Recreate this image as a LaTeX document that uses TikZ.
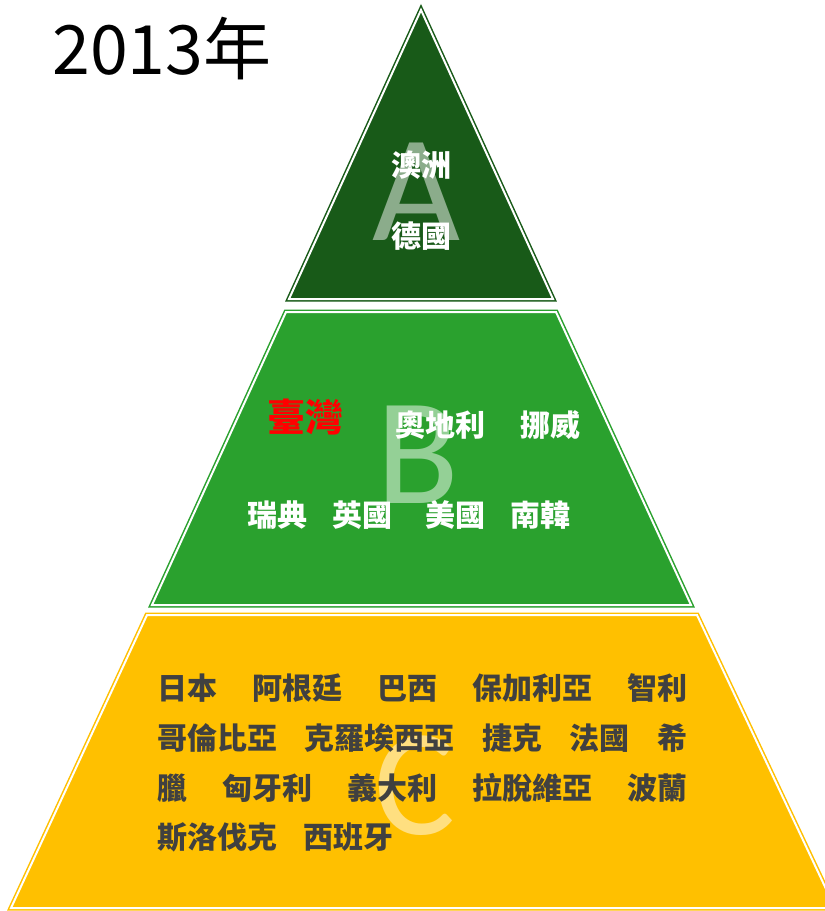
\documentclass[tikz,border=0pt]{standalone}
\usepackage{fontspec}
\usepackage{tikz}
\usetikzlibrary{positioning}
\newfontfamily\cjk{Noto Sans CJK TC}
\newfontfamily\latinfont{Carlito}
\definecolor{topgreen}{RGB}{24,90,24}
\definecolor{midgreen}{RGB}{42,161,46}
\definecolor{basegold}{RGB}{255,192,0}
\definecolor{basegray}{RGB}{64,64,64}

\begin{document}
\begin{tikzpicture}[x=0.5pt, y=-0.5pt,
	tier/.style={line width=0.75pt, double=white, double distance=1pt, line join=miter},
	country/.style={inner sep=0pt, text=white, font=\cjk\bfseries\fontsize{15}{18}\selectfont},
	bigletter/.style={inner sep=0pt, text=white!50!#1, font=\latinfont\fontsize{76}{80}\selectfont}]
		
		% white page of the reference size
		\path[fill=white, use as bounding box] (0,0) rectangle (825,911);
		
		% the three tiers of the pyramid
		\draw[tier, draw=topgreen, fill=topgreen] (421,10) -- (553,299) -- (289,299) -- cycle;
		\draw[tier, draw=midgreen, fill=midgreen] (286,312) -- (556,312) -- (691,605) -- (152,605) -- cycle;
		\draw[tier, draw=basegold, fill=basegold] (147,615) -- (697,615) -- (835,908) -- (11,908) -- cycle;
		
		% big letters behind the names
		\node[bigletter=topgreen] (letA) at (416,192) {A};
		\node[bigletter=midgreen] (letB) at (418,455) {B};
		\node[bigletter=basegold] (letC) at (415,786) {C};
		
		% the year
		\node[inner sep=0pt, font=\cjk\fontsize{34}{40}\selectfont] (year) at (162,49) {2013年};
		
		% tier A
		\node[country] (aus) at (421,165) {澳洲};
		\node[country] (ger) at (421,236) {德國};
		
		% tier B
		\node[country, text=red, font=\cjk\bfseries\fontsize{19}{22}\selectfont] (twn) at (305,417) {臺灣};
		\node[country] (aut) at (440,425) {奧地利};
		\node[country] (nor) at (550,425) {挪威};
		\node[country] (swe) at (277,515) {瑞典};
		\node[country] (gbr) at (362,515) {英國};
		\node[country] (usa) at (455,515) {美國};
		\node[country] (kor) at (540,515) {南韓};
		
		% tier C, justified rows
		\node[country, text=basegray, anchor=west] (rowa) at (157,688)
			{\makebox[265pt]{日本\hfill 阿根廷\hfill 巴西\hfill 保加利亞\hfill 智利}};
		\node[country, text=basegray, anchor=west] (rowb) at (157,738)
			{\makebox[265pt]{哥倫比亞\hfill 克羅埃西亞\hfill 捷克\hfill 法國\hfill 希}};
		\node[country, text=basegray, anchor=west] (rowc) at (157,788)
			{\makebox[265pt]{臘\hfill 匈牙利\hfill 義大利\hfill 拉脫維亞\hfill 波蘭}};
		\node[country, text=basegray, anchor=west] (rowd) at (157,837)
			{斯洛伐克\hspace{13pt}西班牙};
	\end{tikzpicture}
\end{document}
